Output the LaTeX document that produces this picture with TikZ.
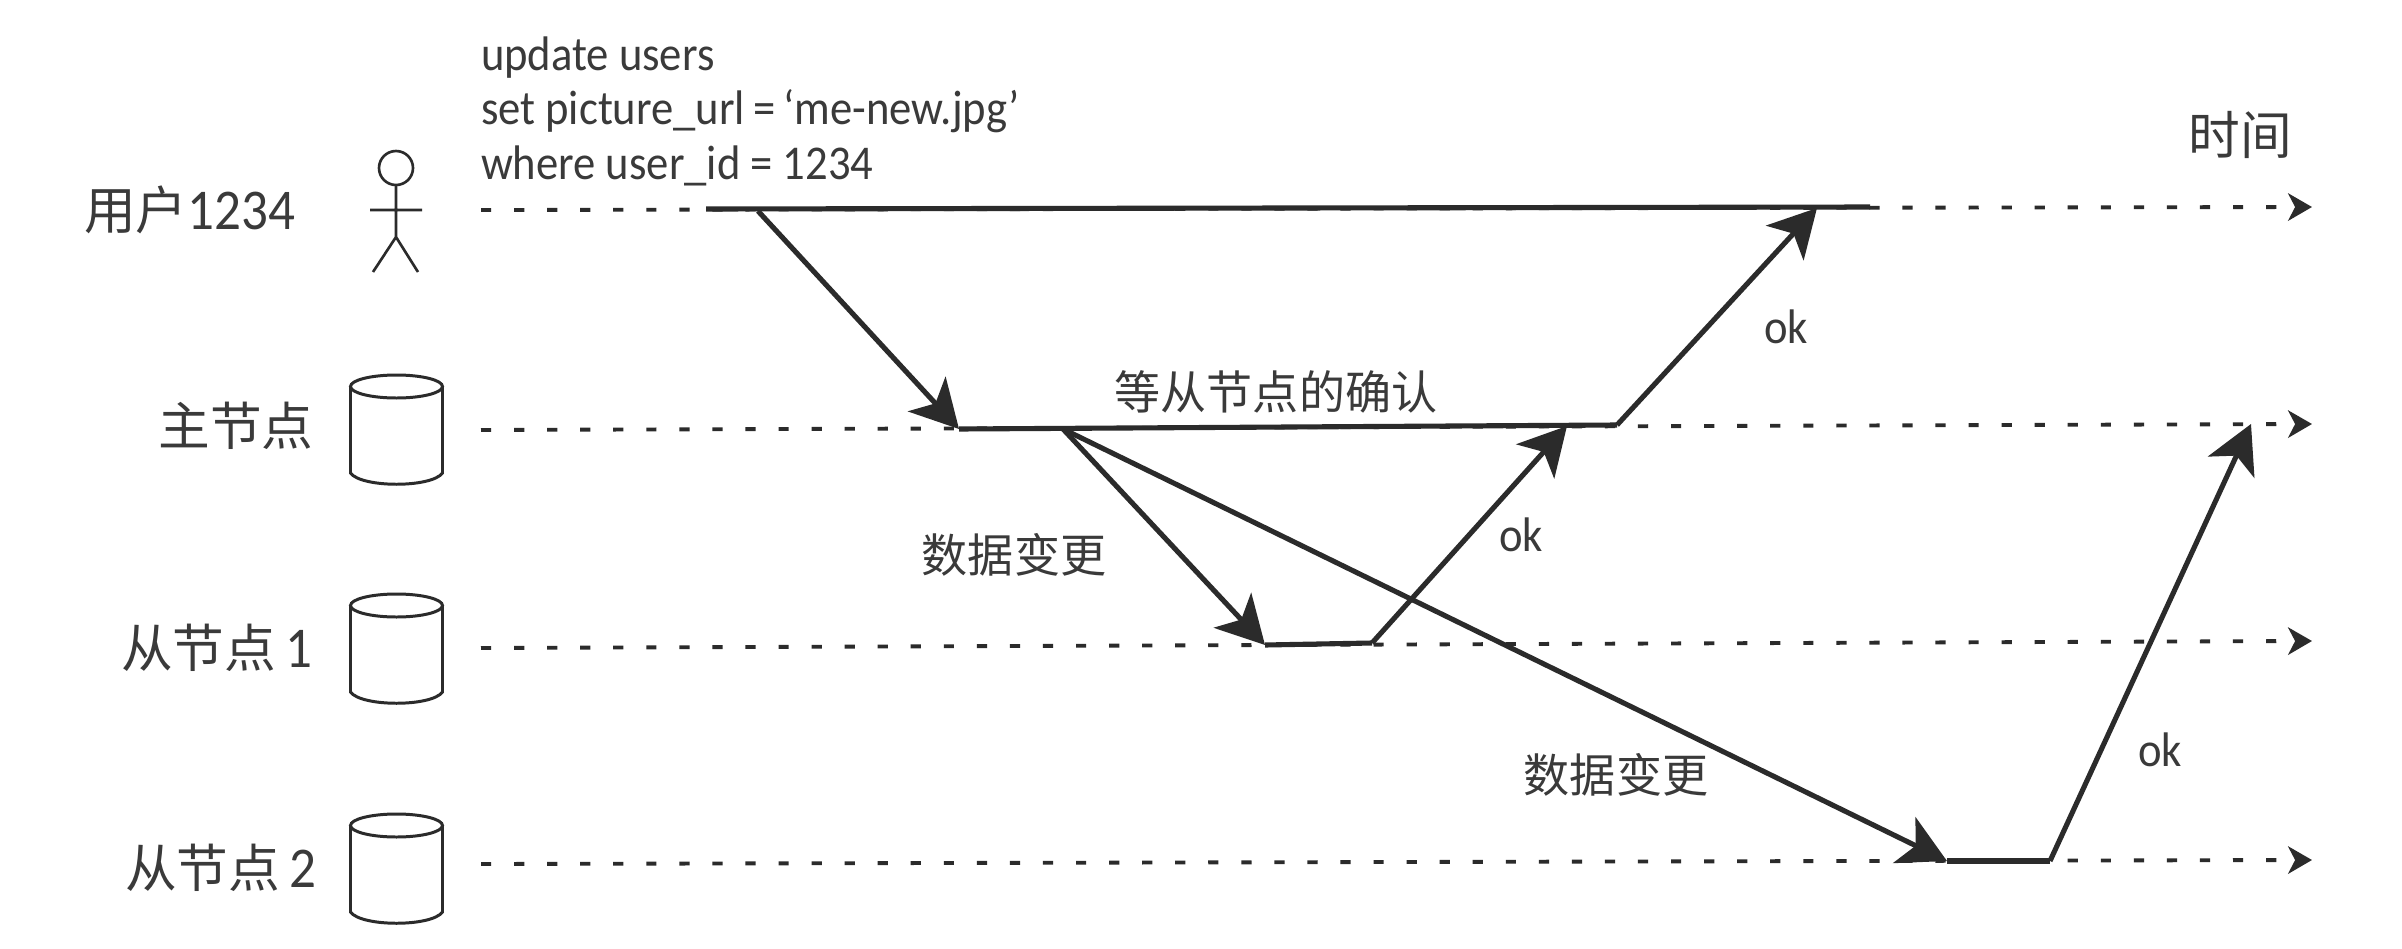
\documentclass[tikz,border=0pt]{standalone}
\usepackage{fontspec}
\setmainfont{Carlito}
\newfontfamily\cjk{Noto Sans CJK SC}
\newfontfamily\narrow[FakeStretch=0.92]{Carlito}
\usetikzlibrary{arrows.meta}
\definecolor{ink}{HTML}{2B2B2B}
\definecolor{txt}{HTML}{3A3A3A}
\tikzset{
  x=0.01cm,y=-0.01cm,
  every node/.style={inner sep=0pt,outer sep=0pt,text=txt},
  bigcjk/.style={font=\fontsize{14.7}{16}\selectfont\cjk},
  midcjk/.style={font=\fontsize{13.1}{15}\selectfont\cjk},
  latin/.style={font=\fontsize{13.8}{15.4}\selectfont\narrow},
  timeline/.style={draw=ink,line width=1.1pt,dash pattern=on 2.9pt off 6.5pt,-{Stealth[length=6.8pt,width=7.8pt,inset=2pt]}},
  busy/.style={draw=ink,line width=1.45pt},
  msg/.style={draw=ink,line width=1.45pt,-{Stealth[length=13.5pt,width=14.5pt,inset=3.6pt]}},
  figure/.style={draw=ink,line width=0.75pt},
  dbline/.style={draw=ink,line width=0.85pt},
}
\newcommand{\dbcyl}[1]{%
  \begin{scope}[shift={(396.5,#1)}]
    \draw[dbline] (0,11.5) circle[x radius=46,y radius=11.5];
    \draw[dbline] (-46,11.5) -- (-46,98) .. controls (-35,113) and (35,113) .. (46,98) -- (46,11.5);
  \end{scope}}
\newcommand{\digs}{\fontsize{16.4}{18}\selectfont\narrow}
\begin{document}
\begin{tikzpicture}
\useasboundingbox (0,0) rectangle (2402,948);
\fill[white] (0,0) rectangle (2402,948);
% lifeline ends
\coordinate (us) at (481,210); \coordinate (ue) at (2312,207);
\coordinate (ms) at (481,430); \coordinate (me) at (2312,424);
\coordinate (as) at (481,648); \coordinate (ae) at (2312,641);
\coordinate (bs) at (481,864); \coordinate (be) at (2312,860);
\draw[timeline] (us) -- (ue);
\draw[timeline] (ms) -- (me);
\draw[timeline] (as) -- (ae);
\draw[timeline] (bs) -- (be);
% actor labels
\node[bigcjk,anchor=west] (ulabel) at (84,210) {用户{\digs 1234}};
\node[bigcjk] (mlabel) at (236,426) {主节点};
\node[bigcjk] (alabel) at (217,648) {从节点{\digs\,1}};
\node[bigcjk] (blabel) at (221,868) {从节点{\digs\,2}};
\node[bigcjk] (tlabel) at (2240,135) {时间};
% stick figure
\draw[figure] (396,168) circle[x radius=17,y radius=17];
\draw[figure] (396,185) -- (396,237) (370,210) -- (422,210) (373,272) -- (396,237) -- (418,272);
% databases
\dbcyl{375}
\dbcyl{594}
\dbcyl{814}
% SQL
\node[latin,anchor=north west,align=left] (sql) at (481,37) {update users\\[0pt]set picture\_url\,=\,‘me-new.jpg’\\[0pt]where user\_id = 1234};
% busy segments
\coordinate (u1) at (706,209); \coordinate (u2) at (1870,207);
\coordinate (ustart) at (758,211); \coordinate (uend) at (1817,208);
\coordinate (m1) at (959,429); \coordinate (m2) at (1617,425);
\coordinate (mfork) at (1063,429); \coordinate (mack) at (1567,426);
\coordinate (mack2) at (2251,424);
\coordinate (a1) at (1265,645); \coordinate (a2) at (1372,643);
\coordinate (b1) at (1947,861); \coordinate (b2) at (2050,861);
\draw[busy] (u1) -- (u2);
\draw[busy] (m1) -- (m2);
\draw[busy] (a1) -- (a2);
\draw[busy] (b1) -- (b2);
\draw[msg] (ustart) -- (m1);
\draw[msg] (m2) -- (uend);
\draw[msg] (mfork) -- (a1);
\draw[msg] (a2) -- (mack);
\draw[msg] (mfork) -- (b1);
\draw[msg] (b2) -- (mack2);
% message labels
\node[midcjk] (wait) at (1276,392) {等从节点的确认};
\node[midcjk] (d1) at (1014,555) {数据变更};
\node[midcjk] (d2) at (1616,775) {数据变更};
\node[latin] (ok1) at (1786,327) {ok};
\node[latin] (ok2) at (1521,535) {ok};
\node[latin] (ok3) at (2160,750) {ok};
\end{tikzpicture}
\end{document}
